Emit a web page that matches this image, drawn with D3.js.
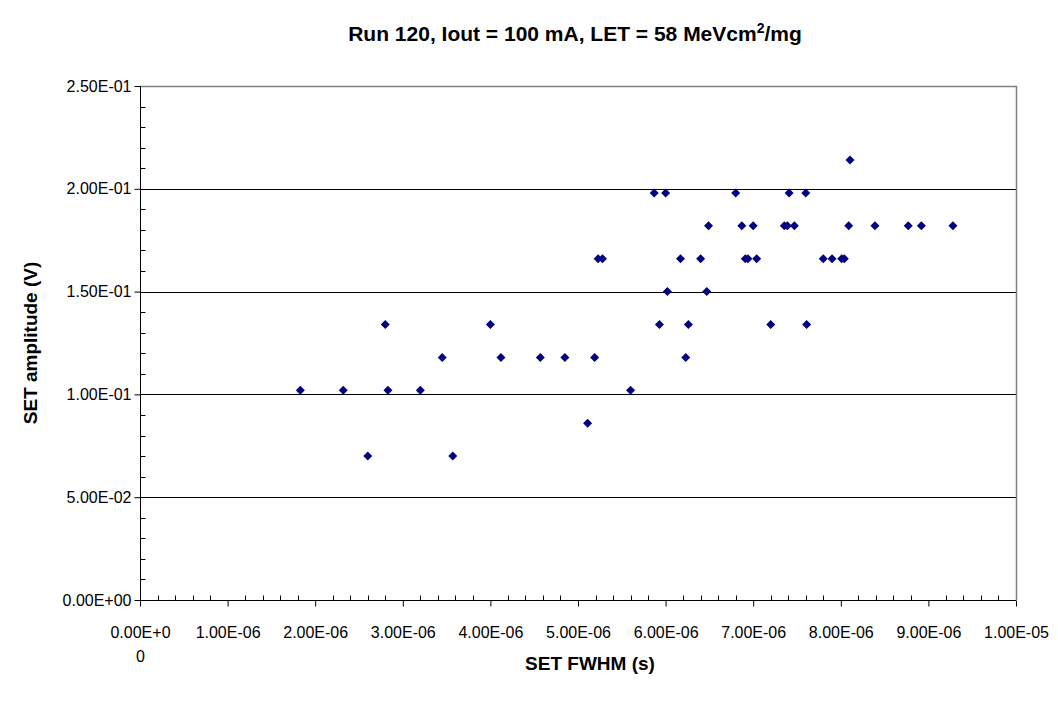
<!DOCTYPE html>
<html>
<head>
<meta charset="utf-8">
<script src="https://cdn.jsdelivr.net/npm/d3@7"></script>
<style>
  body { margin: 0; background: #fff; }
  text { font-family: "Liberation Sans", Arial, sans-serif; }
</style>
</head>
<body>
<div id="vis-holder"></div>
<script>
// Set dimensions
const width = 1058;
const height = 702;
const margin = { top: 86, right: 42, bottom: 102, left: 140 };

// SET FWHM (s)
const fwhm = [
  1.83e-6, 2.32e-6, 2.60e-6, 2.80e-6, 2.83e-6, 3.20e-6, 3.45e-6, 3.57e-6,
  4.00e-6, 4.12e-6, 4.57e-6, 4.85e-6, 5.11e-6, 5.19e-6, 5.23e-6, 5.28e-6,
  5.60e-6, 5.87e-6, 5.93e-6, 6.00e-6, 6.02e-6, 6.17e-6, 6.23e-6, 6.26e-6,
  6.40e-6, 6.47e-6, 6.49e-6, 6.80e-6, 6.87e-6, 6.91e-6, 6.94e-6, 7.00e-6,
  7.04e-6, 7.20e-6, 7.355e-6, 7.39e-6, 7.41e-6, 7.47e-6, 7.60e-6, 7.61e-6,
  7.80e-6, 7.90e-6, 8.01e-6, 8.04e-6, 8.09e-6, 8.105e-6, 8.39e-6, 8.77e-6,
  8.92e-6, 9.28e-6
];
// SET amplitude (V)
const amplitude = [
  0.102, 0.102, 0.070, 0.134, 0.102, 0.102, 0.118, 0.070,
  0.134, 0.118, 0.118, 0.118, 0.086, 0.118, 0.166, 0.166,
  0.102, 0.198, 0.134, 0.198, 0.150, 0.166, 0.118, 0.134,
  0.166, 0.150, 0.182, 0.198, 0.182, 0.166, 0.166, 0.182,
  0.166, 0.134, 0.182, 0.182, 0.198, 0.182, 0.198, 0.134,
  0.166, 0.166, 0.166, 0.166, 0.182, 0.214, 0.182, 0.182,
  0.182, 0.182
];

const xTicks = [0, 1e-6, 2e-6, 3e-6, 4e-6, 5e-6, 6e-6, 7e-6, 8e-6, 9e-6, 1e-5];
const xTickLabels = ["0.00E+00", "1.00E-06", "2.00E-06", "3.00E-06", "4.00E-06", "5.00E-06",
                     "6.00E-06", "7.00E-06", "8.00E-06", "9.00E-06", "1.00E-05"];
const yTicks = [0, 0.05, 0.10, 0.15, 0.20, 0.25];
const yTickLabels = ["0.00E+00", "5.00E-02", "1.00E-01", "1.50E-01", "2.00E-01", "2.50E-01"];

const data = fwhm.map((d, i) => ({ x: d, y: amplitude[i] }));

const svg = d3.select("#vis-holder")
              .append("svg")
              .attr("width", width)
              .attr("height", height);

// scales
const x = d3.scaleLinear()
            .domain([0, 1e-5])
            .range([margin.left, width - margin.right]);
const y = d3.scaleLinear()
            .domain([0, 0.25])
            .range([height - margin.bottom, margin.top]);

// gridlines
svg.append("g")
   .selectAll("line")
   .data(yTicks.slice(1, -1))
   .enter()
   .append("line")
     .attr("x1", x(0)).attr("x2", x(1e-5))
     .attr("y1", (d) => Math.round(y(d)) + 0.5)
     .attr("y2", (d) => Math.round(y(d)) + 0.5)
     .attr("stroke", "#000")
     .attr("stroke-width", 1);

// plot area border (top and right)
svg.append("path")
   .attr("d", `M${x(0)},${Math.round(y(0.25)) + 0.5}H${Math.round(x(1e-5)) + 0.5}V${y(0)}`)
   .attr("fill", "none")
   .attr("stroke", "#808080")
   .attr("stroke-width", 1.5);

// y axis with minor ticks inside
const yAxis = svg.append("g")
   .attr("transform", `translate(${x(0) + 0.5},0)`);
yAxis.call(d3.axisLeft(y)
        .tickValues(yTicks)
        .tickSize(6)
        .tickPadding(3)
        .tickFormat((d, i) => yTickLabels[i]));
yAxis.selectAll(".tick text")
     .attr("font-size", "16px")
     .attr("font-family", "Liberation Sans, Arial, sans-serif")
     .attr("fill", "#000");
yAxis.select(".domain").attr("d", `M0,${y(0.25)}V${y(0)}`);
yAxis.append("g")
     .selectAll("line")
     .data(d3.range(0, 0.25, 0.01).filter((d, i) => i % 5 !== 0))
     .enter()
     .append("line")
       .attr("x1", 0).attr("x2", 5)
       .attr("y1", (d) => Math.round(y(d)) + 0.5)
       .attr("y2", (d) => Math.round(y(d)) + 0.5)
       .attr("stroke", "#000");

// x axis with minor ticks inside
const xAxis = svg.append("g")
   .attr("transform", `translate(0,${y(0) + 0.5})`);
xAxis.call(d3.axisBottom(x)
        .tickValues(xTicks)
        .tickSize(6)
        .tickFormat(""));
xAxis.select(".domain").attr("d", `M${x(0)},0H${x(1e-5)}`);
xAxis.append("g")
     .selectAll("line")
     .data(d3.range(0, 50).map((i) => i * 2e-7).filter((d, i) => i % 5 !== 0))
     .enter()
     .append("line")
       .attr("x1", (d) => Math.round(x(d)) + 0.5)
       .attr("x2", (d) => Math.round(x(d)) + 0.5)
       .attr("y1", 0).attr("y2", -5)
       .attr("stroke", "#000");

// x tick labels (first one wraps onto two lines)
xAxis.selectAll(".tick")
     .append("text")
       .attr("y", 37)
       .attr("fill", "#000")
       .attr("font-size", "16px")
       .attr("text-anchor", "middle")
       .each(function(d, i) {
         const t = d3.select(this);
         const lab = xTickLabels[i];
         if (i === 0) {
           t.append("tspan").attr("x", 0).text(lab.slice(0, 7));
           t.append("tspan").attr("x", 0).attr("dy", 24).text(lab.slice(7));
         } else {
           t.text(lab);
         }
       });

// points
svg.append("g")
   .selectAll("path")
   .data(data)
   .enter()
   .append("path")
     .attr("transform", (d) => `translate(${x(d.x)},${y(d.y)})`)
     .attr("d", "M0,-4.5L4.5,0L0,4.5L-4.5,0Z")
     .attr("fill", "#000080");

// title
const title = svg.append("text")
   .attr("x", 575)
   .attr("y", 41)
   .attr("text-anchor", "middle")
   .attr("font-size", "21px")
   .attr("font-weight", "bold")
   .attr("fill", "#000");
title.append("tspan").text("Run 120, Iout = 100 mA, LET = 58 MeVcm");
title.append("tspan").attr("dy", -8).attr("font-size", "14px").text("2");
title.append("tspan").attr("dy", 8).text("/mg");

// axis titles
svg.append("text")
   .attr("x", 590)
   .attr("y", 670)
   .attr("text-anchor", "middle")
   .attr("font-size", "19px")
   .attr("font-weight", "bold")
   .text("SET FWHM (s)");

svg.append("text")
   .attr("transform", `translate(37,${(y(0) + y(0.25)) / 2}) rotate(-90)`)
   .attr("text-anchor", "middle")
   .attr("font-size", "19px")
   .attr("font-weight", "bold")
   .text("SET amplitude (V)");
</script>
</body>
</html>
